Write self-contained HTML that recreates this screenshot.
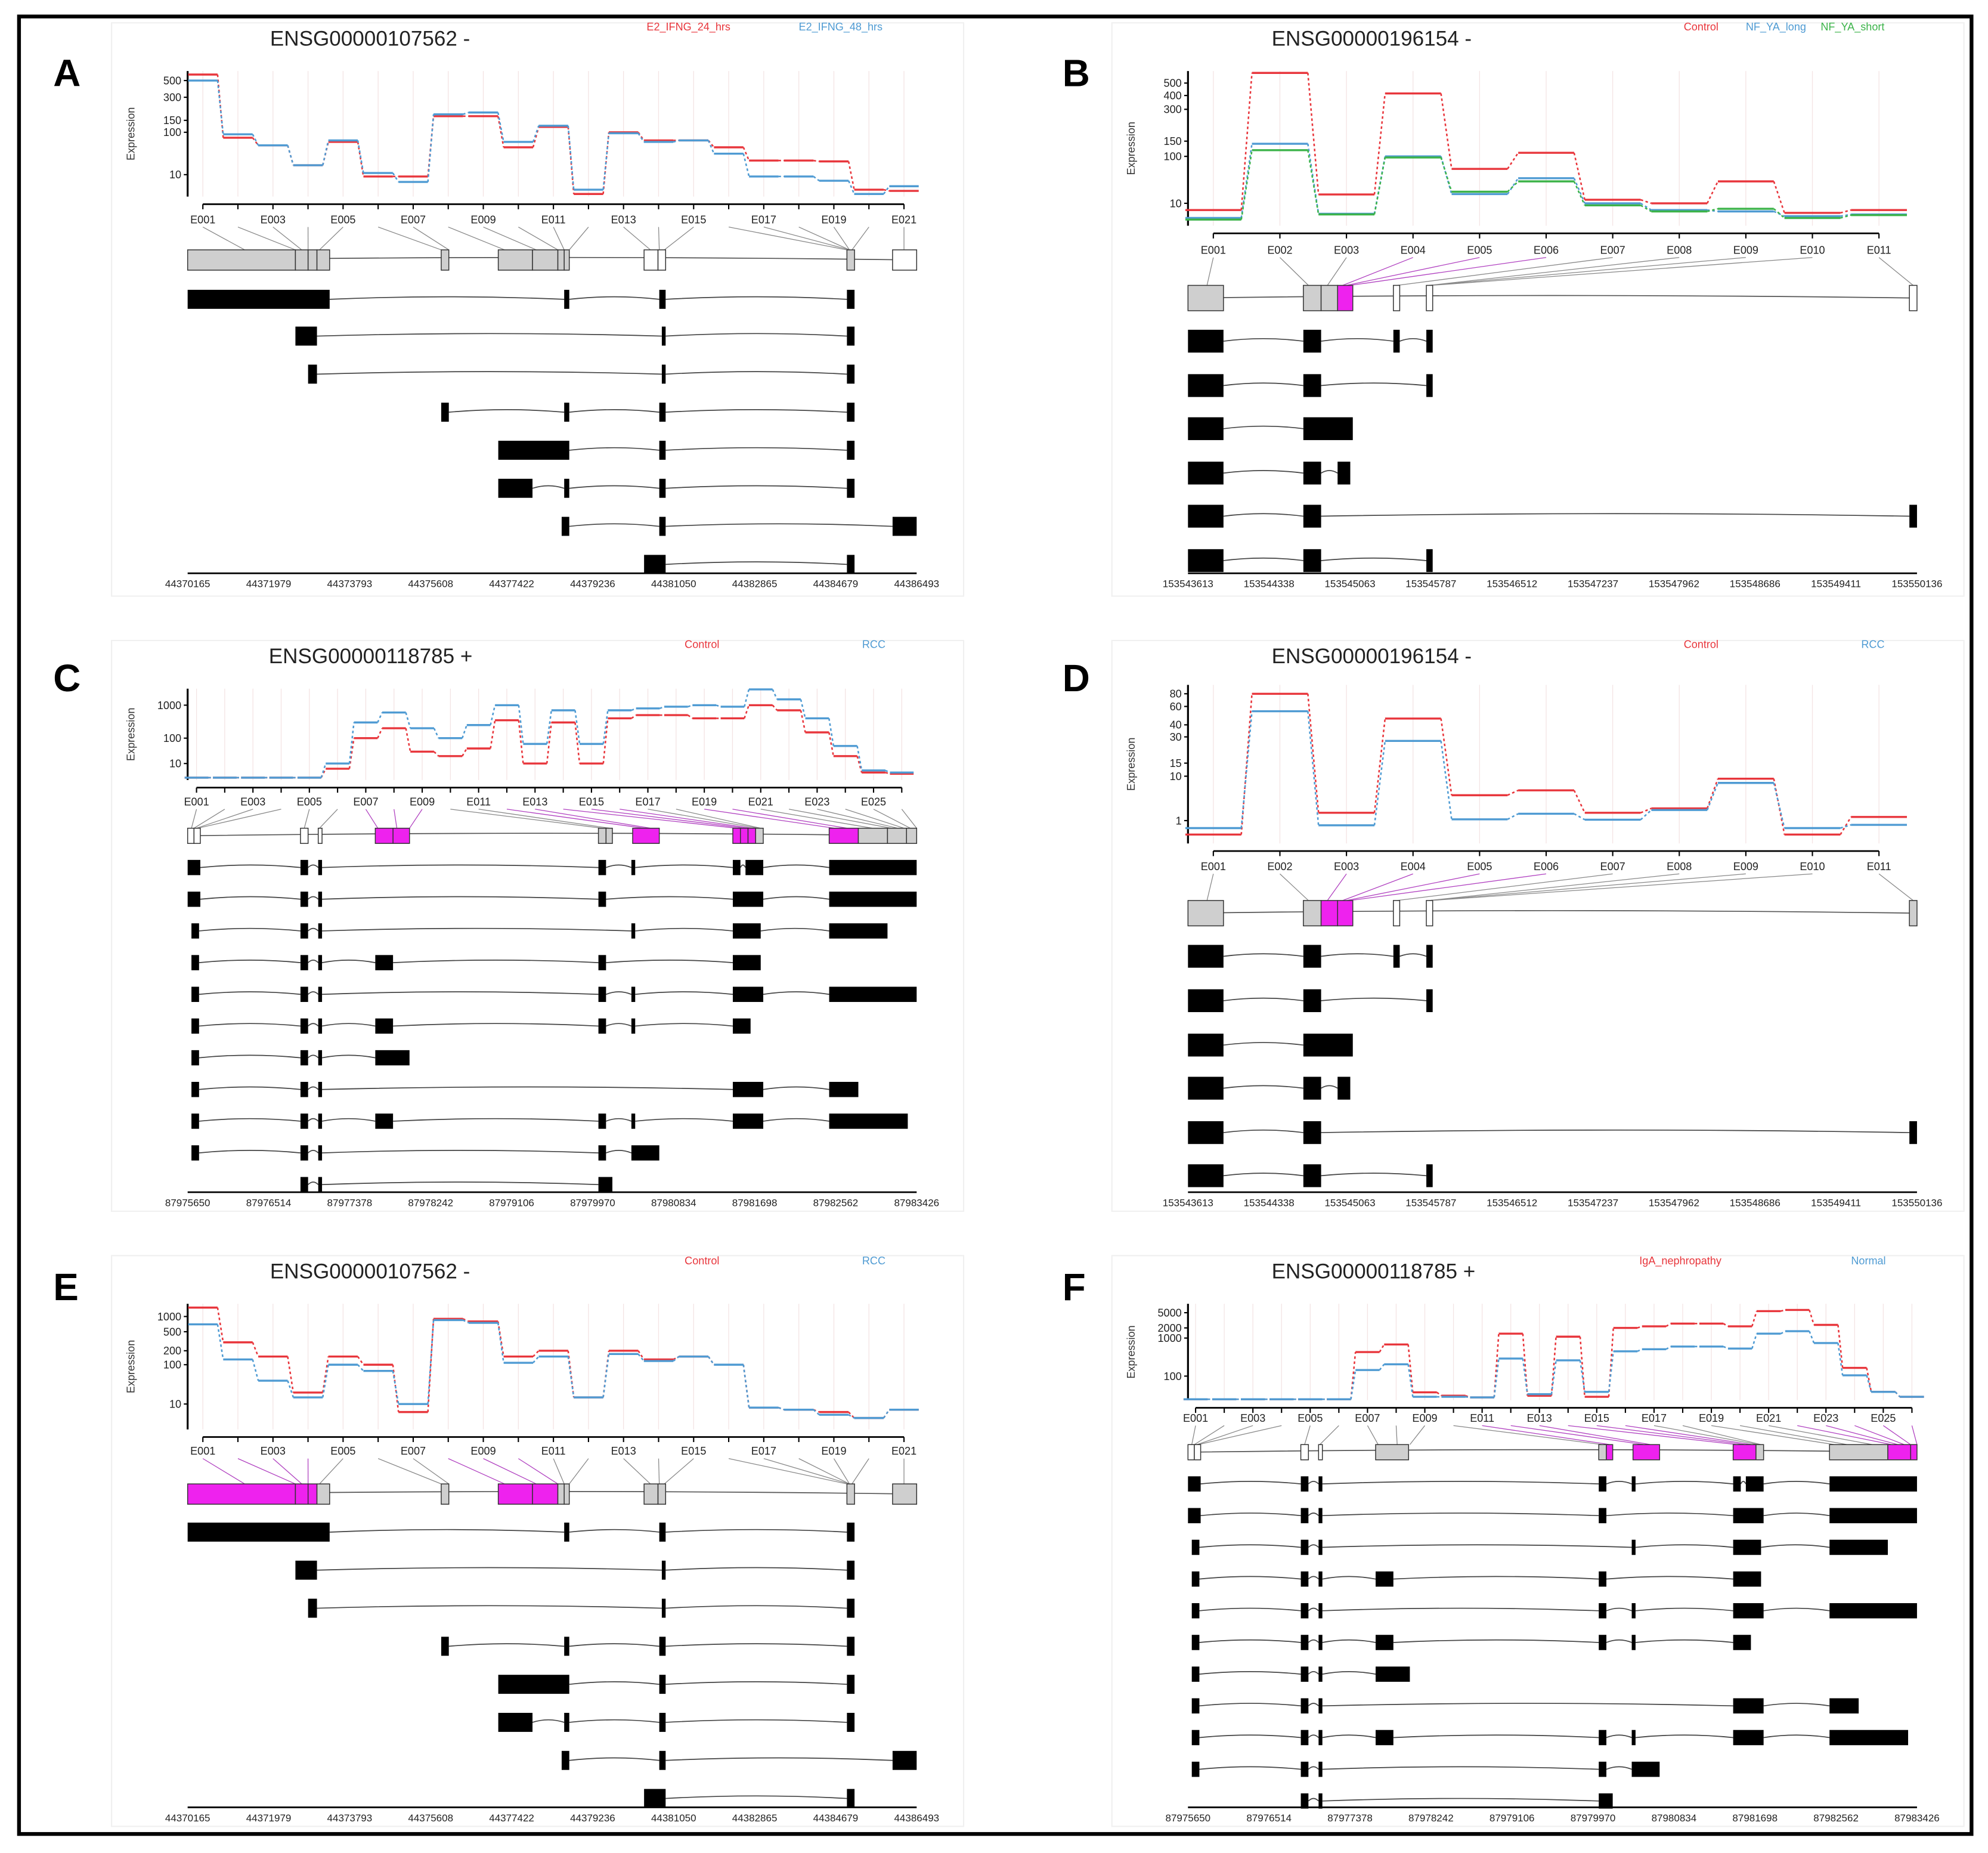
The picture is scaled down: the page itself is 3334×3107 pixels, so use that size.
<!DOCTYPE html>
<html><head><meta charset="utf-8">
<style>
html,body{margin:0;padding:0;background:#fff;}
svg{display:block;font-family:"Liberation Sans",sans-serif;}
</style></head>
<body>
<svg id="fig" width="3334" height="3107" viewBox="0 0 1568 1461" preserveAspectRatio="none" xmlns="http://www.w3.org/2000/svg">
<rect x="0" y="0" width="1568" height="1461" fill="#fff"/>
<rect x="15" y="13" width="1540" height="1433" fill="none" stroke="#000" stroke-width="3"/>
</svg>
<script>
// ---------- data ----------
const panelLetters = ["A","B","C","D","E","F"];
const panelTitles = ["ENSG00000107562 -","ENSG00000196154 -","ENSG00000118785 +","ENSG00000196154 -","ENSG00000107562 -","ENSG00000118785 +"];
const legendA = ["E2_IFNG_24_hrs","E2_IFNG_48_hrs"];
const legendB = ["Control","NF_YA_long","NF_YA_short"];
const legendC = ["Control","RCC"];
const legendF = ["IgA_nephropathy","Normal"];

const ticksA = [500,300,150,100,10];
const ticksB = [500,400,300,150,100,10];
const ticksC = [1000,100,10];
const ticksD = [80,60,40,30,15,10,1];
const ticksE = [1000,500,200,100,10];
const ticksF = [5000,2000,1000,100];

const seriesA_red  = [600,75,50,17,60,9,9,170,170,45,120,3,100,65,65,45,22,22,21,4,3.7];
const seriesA_blue = [500,90,50,17,65,11,6.5,180,190,60,125,4,95,60,65,32,9,9,7,3,5];
const seriesB_red   = [7,600,15.7,415,55,110,12,10,30,6,7];
const seriesB_blue  = [4.5,140,5.7,100,16,35,10,7,6.5,5,5.5];
const seriesB_green = [4.1,118,5.5,95,18,30,9,6.5,7.5,4.5,5.3];
const seriesC_red  = [2.2,2.2,2.2,2.2,2.2,6,100,200,30,20,40,350,10,300,10,400,500,500,400,400,1000,700,150,20,4,3.5];
const seriesC_blue = [2.2,2.2,2.2,2.2,2.2,10,300,600,200,100,250,1000,60,700,60,700,800,900,1000,900,3000,1500,400,50,5,4];
const seriesD_red  = [0.17,80,1.7,46,4.3,5.4,1.7,2.2,9,0.17,1.3];
const seriesD_blue = [0.5,54,0.67,27,1.1,1.6,1.07,2.0,7.5,0.5,0.7];
const seriesE_red  = [1500,300,150,20,150,100,6,900,800,150,200,15,200,130,150,100,8,7,6,4,7];
const seriesE_blue = [700,130,40,15,100,70,10,850,750,110,150,15,170,120,150,100,8,7,5,4,7];
const seriesF_red  = [24,24,24,24,24,24,430,680,37,30,27,1350,30,1100,28,2000,2200,2600,2600,2200,5500,5900,2400,165,38,28];
const seriesF_blue = [24,24,24,24,24,24,145,205,28,28,27,290,33,260,38,450,510,600,600,530,1350,1600,740,105,38,28];

const genomicA = ["44370165","44371979","44373793","44375608","44377422","44379236","44381050","44382865","44384679","44386493"];
const genomicB = ["153543613","153544338","153545063","153545787","153546512","153547237","153547962","153548686","153549411","153550136"];
const genomicC = ["87975650","87976514","87977378","87978242","87979106","87979970","87980834","87981698","87982562","87983426"];

const geneA = [[0,85,"g"],[85,95,"g"],[95,102,"g"],[102,112,"g"],[200,206,"g"],[245,272,"g"],[272,292,"g"],[292,297,"g"],[297,301,"g"],[360,371,"w"],[371,377,"w"],[520,526,"g"],[556,575,"w"]];
const geneE = [[0,85,"m"],[85,95,"m"],[95,102,"m"],[102,112,"g"],[200,206,"g"],[245,272,"m"],[272,292,"m"],[292,297,"g"],[297,301,"g"],[360,371,"g"],[371,377,"g"],[520,526,"g"],[556,575,"g"]];
const geneB = [[0,28,"g"],[91,105,"g"],[105,118,"g"],[118,130,"m"],[162,167,"w"],[188,193,"w"],[569,575,"w"]];
const geneD = [[0,28,"g"],[91,105,"g"],[105,118,"m"],[118,130,"m"],[162,167,"w"],[188,193,"w"],[569,575,"g"]];
const geneC = [[0,5,"w"],[5,10,"w"],[89,95,"w"],[103,106,"w"],[148,162,"m"],[162,175,"m"],[324,330,"g"],[330,335,"g"],[351,372,"m"],[430,436,"m"],[436,442,"m"],[442,448,"m"],[448,454,"g"],[506,529,"m"],[529,552,"g"],[552,567,"g"],[567,575,"g"]];
const geneF = [[0,5,"w"],[5,10,"w"],[89,95,"w"],[103,106,"w"],[148,174,"g"],[324,330,"g"],[330,335,"m"],[351,372,"m"],[430,448,"m"],[448,454,"g"],[506,552,"g"],[552,570,"m"],[570,575,"m"]];

const binTargetsA = [45,85,90,95,104,200,206,250,275,292,297,301,365,372,376,520,522,522,522,524,565];
const binTargetsB = [15,95,110,122,125,128,165,190,190,192,572];
const binTargetsC = [3,5,7,8,92,104,150,165,175,327,333,360,365,433,440,445,450,452,510,520,540,555,560,565,570,575];

const txA = [[[0,112],[297,301],[372,377],[520,526]],[[85,102],[374,377],[520,526]],[[95,102],[374,377],[520,526]],[[200,206],[297,301],[372,377],[520,526]],[[245,301],[372,377],[520,526]],[[245,272],[297,301],[372,377],[520,526]],[[295,301],[372,377],[556,575]],[[360,377],[520,526]]];
const txB = [[[0,28],[91,105],[162,167],[188,193]],[[0,28],[91,105],[188,193]],[[0,28],[91,130]],[[0,28],[91,105],[118,128]],[[0,28],[91,105],[569,575]],[[0,28],[91,105],[188,193]]];
const txC = [
 [[0,10],[89,95],[103,106],[324,330],[350,353],[430,436],[440,454],[506,575]],
 [[0,10],[89,95],[103,106],[324,330],[430,454],[506,575]],
 [[3,9],[89,95],[103,106],[350,353],[430,452],[506,552]],
 [[3,9],[89,95],[103,106],[148,162],[324,330],[430,452]],
 [[3,9],[89,95],[103,106],[324,330],[350,353],[430,454],[506,575]],
 [[3,9],[89,95],[103,106],[148,162],[324,330],[350,353],[430,444]],
 [[3,9],[89,95],[103,106],[148,175]],
 [[3,9],[89,95],[103,106],[430,454],[506,529]],
 [[3,9],[89,95],[103,106],[148,162],[324,330],[350,353],[430,454],[506,568]],
 [[3,9],[89,95],[103,106],[324,330],[350,372]],
 [[89,95],[103,106],[324,335]]];

// panel layout; tickY = axis calibration (pixel of each tick value)
const panels = [
 {ox:148,top:56,bot:155,bin0:160,step:27.65,ticks:ticksA,tickY:[63.5,76.7,94.9,104.3,137.7],series:[[seriesA_red,"#e8363c"],[seriesA_blue,"#4f9bd3"]],legend:legendA,legX:[510,630],legY:24,title:[213,36],letter:[42,68],labelY:176,allLabels:false,geneY:205,gh:16,rows:[236,265,295,325,355,385,415,445],rh:15,axisY:452,gene:geneA,tx:txA,targets:binTargetsA,gl:genomicA,bg:[88,18,672,452]},
 {ox:937,top:56,bot:178,bin0:957,step:52.5,ticks:ticksB,tickY:[65.5,75.3,86.2,111.3,123.3,160.3],series:[[seriesB_red,"#e8363c"],[seriesB_blue,"#4f9bd3"],[seriesB_green,"#3cb34a"]],legend:legendB,legX:[1328,1377,1436],legY:24,title:[1003,36],letter:[838,68],labelY:200,allLabels:true,geneY:235,gh:20,rows:[269,304,338,373,407,442],rh:18,axisY:452,gene:geneB,tx:txB,targets:binTargetsB,gl:genomicB,bg:[877,18,672,452]},
 {ox:148,top:543,bot:615,bin0:155,step:22.25,ticks:ticksC,tickY:[556,582,602],series:[[seriesC_red,"#e8363c"],[seriesC_blue,"#4f9bd3"]],legend:legendC,legX:[540,680],legY:511,title:[212,523],letter:[42,545],labelY:635,allLabels:false,geneY:659,gh:12,rows:[684,709,734,759,784,809,834,859,884,909,934],rh:12,axisY:940,gene:geneC,tx:txC,targets:binTargetsC,gl:genomicC,bg:[88,505,672,450]},
 {ox:937,top:540,bot:665,bin0:957,step:52.5,ticks:ticksD,tickY:[547,557,571.5,581,601.7,612,647],series:[[seriesD_red,"#e8363c"],[seriesD_blue,"#4f9bd3"]],legend:legendC,legX:[1328,1468],legY:511,title:[1003,523],letter:[838,545],labelY:686,allLabels:true,geneY:720,gh:20,rows:[754,789,824,858,893,927],rh:18,axisY:940,gene:geneD,tx:txB,targets:binTargetsB,gl:genomicB,bg:[877,505,672,450]},
 {ox:148,top:1028,bot:1127,bin0:160,step:27.65,ticks:ticksE,tickY:[1038,1050,1065,1076,1107],series:[[seriesE_red,"#e8363c"],[seriesE_blue,"#4f9bd3"]],legend:legendC,legX:[540,680],legY:997,title:[213,1008],letter:[42,1025],labelY:1147,allLabels:false,geneY:1178,gh:16,rows:[1208,1238,1268,1298,1328,1358,1388,1418],rh:15,axisY:1425,gene:geneE,tx:txA,targets:binTargetsA,gl:genomicA,bg:[88,990,672,450]},
 {ox:937,top:1028,bot:1104,bin0:943,step:22.6,ticks:ticksF,tickY:[1035,1047,1055,1085],series:[[seriesF_red,"#e8363c"],[seriesF_blue,"#4f9bd3"]],legend:legendF,legX:[1293,1460],legY:997,title:[1003,1008],letter:[838,1025],labelY:1121,allLabels:false,geneY:1145,gh:12,rows:[1170,1195,1220,1245,1270,1295,1320,1345,1370,1395,1420],rh:12,axisY:1425,gene:geneF,tx:txC,targets:binTargetsC,gl:genomicC,bg:[877,990,672,450]}
];

// ---------- drawing ----------
const NS = "http://www.w3.org/2000/svg";
const svg = document.getElementById("fig");
function mk(tag, attrs, parent){
  const e = document.createElementNS(NS, tag);
  for (const k in attrs) e.setAttribute(k, attrs[k]);
  (parent||svg).appendChild(e);
  return e;
}
const fills = {g:"#cfcfcf", w:"#ffffff", m:"#ee22ee"};

function makeScale(ticks, tickY){
  const f = v => Math.log10(v + 1);
  const pts = ticks.map((t, i) => [f(t), tickY[i]]).sort((a, b) => a[0] - b[0]);
  return v => {
    const fv = f(v);
    let i = 0;
    while (i < pts.length - 2 && fv > pts[i + 1][0]) i++;
    const [a0, y0] = pts[i], [a1, y1] = pts[i + 1];
    return y0 + (fv - a0) / (a1 - a0) * (y1 - y0);
  };
}

panels.forEach((p, pi) => {
  const g = mk("g", {});
  
  
  const bg = mk("rect", {x:p.bg[0], y:p.bg[1], width:p.bg[2], height:p.bg[3], fill:"none", stroke:"#f0f0f0", "stroke-width":1}, g);
  
  
  const letter = mk("text", {x:p.letter[0], y:p.letter[1], "font-size":30, "font-weight":"bold"}, g);
  letter.textContent = panelLetters[pi];
  
  
  const title = mk("text", {x:p.title[0], y:p.title[1], "font-size":16.5, fill:"#222"}, g);
  title.textContent = panelTitles[pi];
  
  
  p.legend.forEach((t, i) => {
    const lt = mk("text", {x:p.legX[i], y:p.legY, "font-size":8.5, fill:p.series[i][1]}, g);
    lt.textContent = t;
    
    
  });

  const n = p.series[0][0].length;
  const bx = i => p.bin0 + i * p.step;
  const ys = makeScale(p.ticks, p.tickY);
  const gx = r => p.ox + r;

  for (let i = 0; i < n; i++) {
    const gl = mk("line", {x1:bx(i), x2:bx(i), y1:p.top, y2:p.bot, stroke:"#f3e3e3", "stroke-width":0.6}, g);
    
    
  }
  const ya = mk("line", {x1:p.ox, x2:p.ox, y1:p.top, y2:p.bot, stroke:"#000", "stroke-width":1.5}, g);
  
  
  p.ticks.forEach(t => {
    const tl = mk("line", {x1:p.ox - 3, x2:p.ox, y1:ys(t), y2:ys(t), stroke:"#000", "stroke-width":1}, g);
    
    
    const tt = mk("text", {x:p.ox - 5, y:ys(t) + 3, "font-size":8.5, "text-anchor":"end", fill:"#222"}, g);
    tt.textContent = t;
    
    
  });
  const ylab = mk("text", {x:0, y:0, "font-size":8.5, "text-anchor":"middle", fill:"#333", transform:`translate(${p.ox - 42},${(p.top + p.bot) / 2}) rotate(-90)`}, g);
  ylab.textContent = "Expression";
  
  

  p.series.forEach(([vals, col]) => {
    const hw = p.step * 0.42;
    vals.forEach((v, i) => {
      const seg = mk("line", {x1:bx(i) - hw, x2:bx(i) + hw, y1:ys(v), y2:ys(v), stroke:col, "stroke-width":1.6}, g);
      
      
      if (i < vals.length - 1) {
        const c = mk("line", {x1:bx(i) + hw, x2:bx(i + 1) - hw, y1:ys(v), y2:ys(vals[i + 1]), stroke:col, "stroke-width":1.2, "stroke-dasharray":"2,2"}, g);
        
        
      }
    });
  });

  const xaY = p.bot + 6;
  const xa = mk("line", {x1:bx(0), x2:bx(n - 1), y1:xaY, y2:xaY, stroke:"#000", "stroke-width":1.3}, g);
  
  
  for (let i = 0; i < n; i++) {
    const tk = mk("line", {x1:bx(i), x2:bx(i), y1:xaY, y2:xaY + 4, stroke:"#000", "stroke-width":1}, g);
    
    
    if (p.allLabels || i % 2 === 0) {
      const lb = mk("text", {x:bx(i), y:p.labelY, "font-size":8.5, "text-anchor":"middle", fill:"#222"}, g);
      lb.textContent = "E" + String(i + 1).padStart(3, "0");
      
      
    }
    const tgt = p.targets[i];
    const inMag = p.gene.some(b => b[2] === "m" && tgt >= b[0] && tgt <= b[1]);
    const cl = mk("line", {x1:bx(i), y1:p.labelY + 3, x2:gx(tgt), y2:p.geneY - p.gh / 2, stroke:inMag ? "#b040c0" : "#888", "stroke-width":0.6}, g);
    
    
  }

  const gline = mk("path", {d:`M${gx(0)},${p.geneY} Q${gx(287)},${p.geneY - 4} ${gx(575)},${p.geneY}`, fill:"none", stroke:"#555", "stroke-width":0.8}, g);
  
  
  p.gene.forEach(b => {
    const r = mk("rect", {x:gx(b[0]), y:p.geneY - p.gh / 2, width:Math.max(b[1] - b[0], 1.5), height:p.gh, fill:fills[b[2]], stroke:"#333", "stroke-width":0.7}, g);
    
    
  });

  p.tx.forEach((tr, ti) => {
    const y = p.rows[ti];
    for (let k = 0; k < tr.length - 1; k++) {
      const x1 = gx(tr[k][1]), x2 = gx(tr[k + 1][0]);
      const ln = mk("path", {d:`M${x1},${y} Q${(x1 + x2) / 2},${y - 4} ${x2},${y}`, fill:"none", stroke:"#444", "stroke-width":0.8}, g);
      
      
    }
    tr.forEach(e => {
      const r = mk("rect", {x:gx(e[0]), y:y - p.rh / 2, width:Math.max(e[1] - e[0], 3), height:p.rh, fill:"#000"}, g);
      
      
    });
  });

  const ga = mk("line", {x1:gx(0), x2:gx(575), y1:p.axisY, y2:p.axisY, stroke:"#000", "stroke-width":1.3}, g);
  
  
  p.gl.forEach((t, i) => {
    const tx = mk("text", {x:gx(i * 575 / 9), y:p.axisY + 11, "font-size":8, "text-anchor":"middle", fill:"#222"}, g);
    tx.textContent = t;
    
    
  });
});
</script>
</body></html>
